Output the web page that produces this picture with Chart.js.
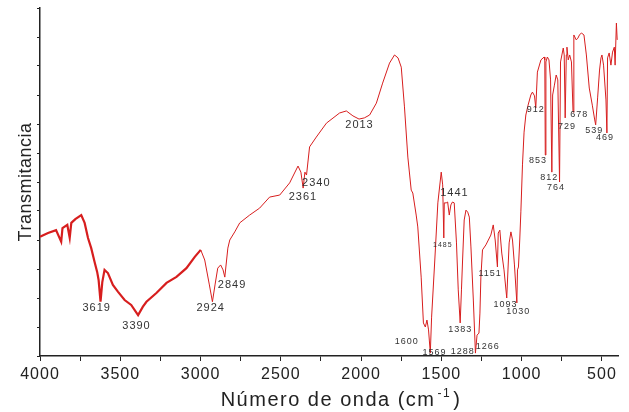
<!DOCTYPE html>
<html>
<head>
<meta charset="utf-8">
<script src="https://cdn.jsdelivr.net/npm/chart.js@4.4.1/dist/chart.umd.min.js"></script>
<style>
  html, body { margin:0; padding:0; background:#fff; overflow:hidden; }
  canvas { display:block; }
</style>
</head>
<body>
<canvas id="ftir" width="629" height="412"></canvas>
<script>
// wavenumber (cm-1) and transmittance (arbitrary units)
const waveNumbers = [4000,3950,3900,3868,3860,3830,3815,3805,3780,3743,3722,3701,3681,3660,3644,3635,3623,3612,3598,3577,3546,3515,3473,3432,3389,3359,3337,3275,3212,3150,3088,3036,2999,2974,2945,2926,2910,2893,2875,2860,2849,2830,2818,2787,2756,2694,2632,2570,2507,2445,2393,2375,2361,2350,2340,2321,2279,2216,2134,2092,2051,2013,1980,1947,1905,1866,1823,1792,1770,1750,1730,1709,1688,1678,1657,1647,1626,1612,1600,1590,1580,1569,1561,1541,1522,1501,1492,1485,1482,1470,1461,1451,1441,1431,1420,1406,1395,1383,1375,1368,1358,1347,1336,1326,1316,1301,1288,1278,1266,1260,1254,1244,1223,1192,1177,1165,1151,1146,1136,1124,1110,1093,1078,1067,1057,1045,1030,1026,1020,1012,1005,995,985,974,960,943,933,920,912,902,880,860,856,853,849,840,830,820,812,807,796,785,775,764,758,741,735,729,722,718,710,701,690,680,675,660,650,640,628,612,597,579,560,545,539,527,515,506,500,490,475,469,465,455,444,434,423,418,410,405];
const transmittance = [41.1,42.4,43.4,39.4,44.1,45.2,40.7,45.9,47.2,48.6,45.9,40.7,37.2,32.4,29.0,26.2,18.7,25.5,29.7,28.6,24.5,22.2,19.3,17.6,14.1,17.0,18.7,21.7,25.2,27.3,30.3,34.2,36.6,33.1,24.5,18.7,24.5,30.3,31.4,29.7,27.2,37.2,40.0,42.8,45.9,48.6,51.0,54.8,55.5,59.7,65.5,63.4,57.9,63.4,62.4,72.1,75.5,80.3,83.8,84.5,82.8,81.7,82.1,83.1,87.2,94.1,101.0,103.8,102.8,99.6,85.9,68.6,57.2,56.2,48.6,44.5,27.2,11.4,10.0,12.4,9.0,1.0,13.4,33.1,52.8,63.4,59.0,40.7,52.8,52.8,53.1,48.6,52.1,53.1,52.8,39.0,22.8,11.4,22.8,33.1,46.9,50.3,49.6,47.9,37.6,19.3,1.0,7.2,7.9,14.8,27.2,36.6,38.3,41.7,45.2,40.0,30.7,42.4,43.4,35.5,29.7,20.0,39.0,42.8,40.0,31.4,18.3,29.7,30.7,40.0,49.7,65.9,77.2,83.1,86.5,90.0,91.0,89.7,85.5,97.9,102.1,103.1,102.1,69.3,101.4,103.1,102.1,95.2,63.4,90.0,93.4,96.9,95.2,60.0,101.4,106.2,103.8,82.1,103.8,106.5,102.1,103.8,101.4,84.1,110.7,109.0,109.6,110.7,111.4,110.7,103.8,92.4,86.5,81.4,79.7,89.0,98.6,102.8,103.8,100.3,88.3,76.9,102.8,104.5,100.3,104.8,106.5,100.3,114.8,109.0];

// peak annotations: text, and where the text sits (wavenumber, transmittance)
const peakLabels = ["3619","3390","2924","2849","2361","2340","2013","1600","1569","1485","1441","1383","1288","1266","1151","1093","1030","912","853","812","764","729","678","539","469"];
const peakLabelX = [3647,3399,2937,2804,2362,2279,2010,1715,1543,1491,1419,1382,1367,1211,1196,1101,1021,912,898,828,786,718,641,548,481];
const peakLabelY = [16.7,10.3,16.7,24.5,54.9,59.8,79.6,4.9,1.1,38.3,56.1,9.3,1.7,3.4,28.5,17.9,15.3,85.0,67.3,61.5,58.2,79.1,83.3,77.6,75.3];

const xTicks = [4000,3750,3500,3250,3000,2750,2500,2250,2000,1750,1500,1250,1000,750,500];
const xTickLabels = [4000,3500,3000,2500,2000,1500,1000,500];
const yTicks = [0,10,20,30,40,50,60,70,80,90,100,110,120];

const xTitle = ["Número de onda (cm", "-1", ")"];
const yTitle = "Transmitancia";

// label sizes (style, not data)
const tinyLabels = ["1485"];
const smallLabels = ["1600","1569","1383","1288","1266","1151","1093","1030","912","853","812","764","729","678","539","469"];
const FONT = "Arial, 'Liberation Sans', sans-serif";

const points = waveNumbers.map((w,i)=>({x:w, y:transmittance[i]}));

const textPlugin = {
  id: "textStuff",
  beforeDraw(chart){ chart.ctx.letterSpacing = "1px"; },
  afterDraw(chart){
    const ctx = chart.ctx;
    const xs = chart.scales.x, ys = chart.scales.y;
    const area = chart.chartArea;
    ctx.save();
    ctx.fillStyle = "#333";
    ctx.textAlign = "center";
    ctx.textBaseline = "middle";
    ctx.letterSpacing = "1px";
    peakLabels.forEach((t,i)=>{
      let size = 11;
      if(smallLabels.includes(t)) size = 9;
      if(tinyLabels.includes(t)) size = 7;
      ctx.font = size + "px " + FONT;
      ctx.fillText(t, xs.getPixelForValue(peakLabelX[i]), ys.getPixelForValue(peakLabelY[i]));
    });

    // axis titles
    ctx.fillStyle = "#222";
    ctx.letterSpacing = "0.5px";
    ctx.font = "18px " + FONT;
    ctx.save();
    ctx.translate(area.left - 14, (area.top + area.bottom) / 2);
    ctx.rotate(-Math.PI/2);
    ctx.fillText(yTitle, 0, 0);
    ctx.restore();

    ctx.letterSpacing = "1.5px";
    ctx.textAlign = "left";
    ctx.textBaseline = "alphabetic";
    const big = "20px " + FONT, sup = "12px " + FONT;
    ctx.font = big; const w0 = ctx.measureText(xTitle[0]).width;
    ctx.font = sup; const w1 = ctx.measureText(xTitle[1]).width;
    ctx.font = big; const w2 = ctx.measureText(xTitle[2]).width;
    let x = (area.left + area.right) / 2 + 12 - (w0 + w1 + w2 + 4) / 2;
    const yb = area.bottom + 50;
    ctx.font = big; ctx.fillText(xTitle[0], x, yb); x += w0 + 2;
    ctx.font = sup; ctx.fillText(xTitle[1], x, yb - 9); x += w1 + 2;
    ctx.font = big; ctx.fillText(xTitle[2], x, yb);
    ctx.restore();
  }
};

new Chart(document.getElementById("ftir"), {
  type: "line",
  data: {
    datasets: [{
      data: points,
      borderColor: "rgb(215,30,30)",
      borderWidth: 1,
      segment: { borderWidth: c => c.p0.parsed.x > 3010 ? 2.2 : 1 },
      pointRadius: 0,
      tension: 0,
      fill: false
    }]
  },
  options: {
    responsive: false,
    animation: false,
    devicePixelRatio: 1,
    layout: { padding: { top: 8, right: 11, left: 0, bottom: 0 } },
    plugins: { legend: { display: false }, tooltip: { enabled: false } },
    scales: {
      x: {
        type: "linear",
        reverse: true,
        min: 400,
        max: 4000,
        afterBuildTicks: s => { s.ticks = xTicks.map(v=>({value:v})); },
        afterFit: s => { s.height = 56; },
        border: { display: true, color: "#222", width: 1.5 },
        grid: { drawOnChartArea: false, drawTicks: true, tickLength: 5, color: "#222" },
        ticks: {
          autoSkip: false,
          maxRotation: 0,
          padding: 4,
          color: "#222",
          font: { family: FONT, size: 16 },
          callback: v => xTickLabels.includes(v) ? String(v) : ""
        }
      },
      y: {
        type: "linear",
        min: 0,
        max: 120,
        afterBuildTicks: s => { s.ticks = yTicks.map(v=>({value:v})); },
        afterFit: s => { s.width = 40; },
        border: { display: true, color: "#222", width: 1.5 },
        grid: { drawOnChartArea: false, drawTicks: true, tickLength: 3, color: "#222" },
        ticks: { callback: () => "", padding: 0 }
      }
    }
  },
  plugins: [textPlugin]
});
</script>
</body>
</html>
